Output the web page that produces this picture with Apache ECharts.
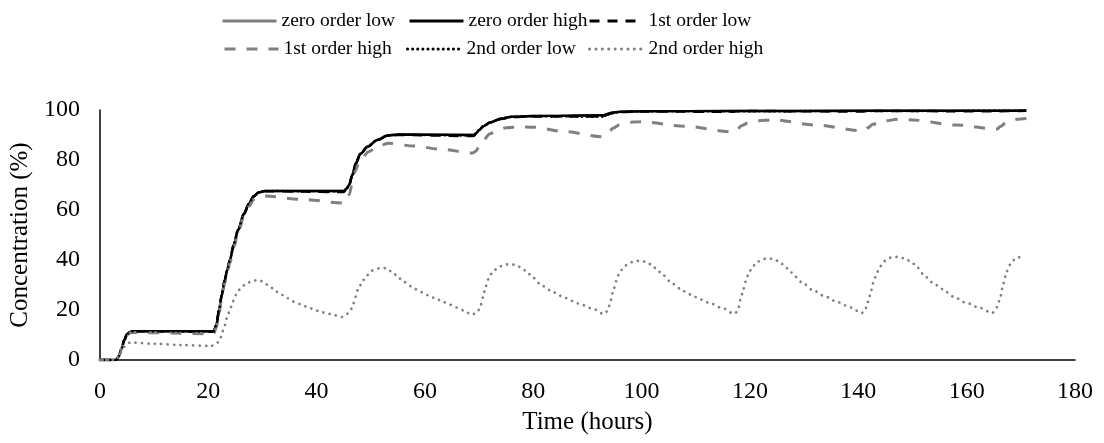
<!DOCTYPE html>
<html>
<head>
<meta charset="utf-8">
<script src="https://cdn.jsdelivr.net/npm/echarts@6/dist/echarts.min.js"></script>
<style>
html,body{margin:0;padding:0;background:#fff;}
#chart{width:1104px;height:443px;}
</style>
</head>
<body>
<div id="chart"></div>
<script>
// ---- data: [time (hours), concentration (%)] ----
const seriesNames = ['zero order low', 'zero order high', '1st order low', '1st order high', '2nd order low', '2nd order high'];

const zeroOrderLow = [[0,0],[3,0],[3.5,1.5],[4,4.5],[4.5,8],[5,10.3],[5.5,11.2],[6,11.5],[21,11.5],[21.5,14],[22,20],[22.5,26],[23,31.5],[23.5,36],[24,40],[24.7,46],[25.5,52],[26.6,58.5],[27.5,62.5],[28.4,65.5],[29.3,67],[30.5,67.6],[45,67.6],[45.5,68.5],[46,70],[46.6,74],[47.2,78.5],[48.1,82.5],[49.4,85.3],[51.2,88],[53.1,89.8],[55,90.2],[69,90],[69.5,90.8],[70,92],[70.8,93.5],[72,95],[74,96.5],[76,97.3],[80,97.6],[93,97.9],[93.5,98.3],[94.5,98.9],[96,99.3],[100,99.5],[117,99.6],[141,99.7],[171,99.8]];

const zeroOrderHigh = [[0,0],[3,0],[3.5,1.5],[4,4.5],[4.5,8],[5,10.3],[5.5,11.2],[6,11.5],[21,11.5],[21.5,14],[22,20],[22.5,26],[23,31.5],[23.5,36],[24,40],[24.7,46],[25.5,52],[26.6,58.5],[27.5,62.5],[28.4,65.5],[29.3,67],[30.5,67.6],[45,67.6],[45.5,68.5],[46,70],[46.6,74],[47.2,78.5],[48.1,82.5],[49.4,85.3],[51.2,88],[53.1,89.8],[55,90.2],[69,90],[69.5,90.8],[70,92],[70.8,93.5],[72,95],[74,96.5],[76,97.3],[80,97.6],[93,97.9],[93.5,98.3],[94.5,98.9],[96,99.3],[100,99.5],[117,99.6],[141,99.7],[171,99.7]];

const firstOrderLow = [[0,0],[3,0],[3.5,1.5],[4,4.5],[4.5,8],[5,10.3],[5.5,11.2],[6,11.5],[21,11.3],[21.5,14],[22,20],[22.5,26],[23,31.5],[23.5,36],[24,40],[24.7,46],[25.5,52],[26.6,58.5],[27.5,62.5],[28.4,65.5],[29.3,67],[30.5,67.5],[45,67.2],[45.5,68.3],[46,70],[46.6,74],[47.2,78.5],[48.1,82.5],[49.4,85.3],[51.2,88],[53.1,89.7],[55,90],[69,89.6],[69.5,90.6],[70,92],[70.8,93.5],[72,95],[74,96.4],[76,97.2],[80,97.4],[93,97.4],[93.5,98],[94.5,98.7],[96,99.2],[100,99.4],[117,99.3],[118,99.6],[141,99.4],[142,99.6],[165,99.5],[171,99.7]];

const firstOrderHigh = [[0,0],[3,0],[3.5,1.5],[4,4.5],[4.5,8],[5,10],[5.5,10.8],[6,11],[21,10.5],[21.5,13],[22,19],[22.5,25],[23,30.5],[23.5,35],[24,39],[24.7,45],[25.5,51],[26.6,57.5],[27.5,61.5],[28.4,64.3],[29.3,65.5],[30.5,65.6],[37,64.3],[45,62.8],[45.5,63.5],[46,66],[46.9,74.7],[48.1,80],[49.6,83.3],[51.2,85.3],[53.2,86.7],[58,85.6],[62.9,84.3],[68.8,82.8],[69.4,83.5],[70,85.5],[70.8,88],[72,90.5],[73.3,92],[75,92.9],[77.5,93.3],[80,93.1],[86,91.3],[92.6,89.3],[93.3,90],[94,91.5],[94.8,92.8],[96,94.2],[98.5,95.2],[100,95.3],[108,93.5],[117,91.2],[117.6,92.2],[118.5,93.8],[119.5,94.7],[121.5,95.7],[124.3,96.1],[132,94],[141,91.6],[141.7,92.8],[142.7,94.3],[144.6,95.6],[147.5,96.3],[150,96],[158,94],[165.6,92.4],[166.3,93.5],[167.3,95],[169.3,96.3],[171.3,96.7]];

const secondOrderLow = [[0,0],[3,0],[3.5,1.5],[4,4.5],[4.5,8],[5,10.3],[5.5,11.2],[6,11.5],[21,11.4],[21.5,14],[22,20],[22.5,26],[23,31.5],[23.5,36],[24,40],[24.7,46],[25.5,52],[26.6,58.5],[27.5,62.5],[28.4,65.5],[29.3,67],[30.5,67.6],[45,67.4],[45.5,68.4],[46,70],[46.6,74],[47.2,78.5],[48.1,82.5],[49.4,85.3],[51.2,88],[53.1,89.8],[55,90.1],[69,89.8],[69.5,90.7],[70,92],[70.8,93.5],[72,95],[74,96.5],[76,97.2],[80,97.5],[93,97.3],[93.5,98],[94.5,98.8],[96,99.2],[100,99.5],[117,99.5],[141,99.6],[171,99.7]];

const secondOrderHigh = [[0,0],[3,0],[3.5,1.5],[4,3.5],[4.5,5.3],[5,6.4],[5.5,6.9],[6,7],[10,6.5],[15,6],[20.5,5.6],[21.5,6.5],[22.2,8.3],[22.6,11.3],[23.1,14],[23.5,17.3],[24,20],[24.5,23.3],[25.1,26],[26,28.7],[26.9,30.4],[28.2,31.7],[29.4,32],[30.4,30.7],[31.5,29.1],[32.6,27.3],[33.7,26],[34.7,24.7],[35.9,23.3],[37.1,22.3],[38.2,21.3],[39.5,20.3],[40.6,19.3],[41.9,18.7],[43.1,18],[44.6,17.2],[45.4,18],[46.3,20],[46.8,22.7],[47.2,25.3],[47.6,28],[48.6,32],[49.4,34],[50.5,36],[51.8,36.8],[52.9,36.7],[54.2,34.7],[55.2,32.7],[56.2,31.2],[57.4,29.5],[58.5,28.2],[59.6,27],[60.7,25.8],[62,24.6],[63.3,23.3],[64.5,22.2],[65.8,21],[67.2,19.8],[68.6,18.1],
[69.3,18.6],[69.8,19.6],[70.3,22],[70.7,25],[71.2,29.3],[71.7,32.3],[72.4,34.8],[73.3,36.6],[74.4,37.9],[75.6,38.4],[76.8,38],[77.9,36.8],[78.9,35],[79.9,33],[81.7,29.6],[83.8,27],[85.9,24.8],[88.3,22.6],[90.9,20.6],[93,18.4],
[93.4,19],[93.9,21],[94.3,24],[94.8,28],[95.3,31.5],[95.8,34.2],[96.5,36.5],[97.4,38.3],[98.4,39.3],[99.6,39.7],[100.8,39.3],[101.9,38],[102.9,36],[103.9,34],[105.7,30.5],[107.8,27.5],[109.9,25.2],[112.3,23],[114.9,20.8],[117,18.5],
[117.4,19],[117.9,21],[118.3,24.5],[118.8,28.5],[119.3,32],[119.8,35],[120.5,37.5],[121.4,39.3],[122.3,40.3],[123.3,40.7],[124.5,40.3],[125.6,39],[126.6,37],[127.6,35],[129.5,31.2],[131.6,28],[133.7,25.6],[136.1,23.2],[138.6,21],[140.6,18.8],
[141.2,19.5],[141.6,22],[142,25],[142.4,28],[142.8,31.2],[143.3,34],[143.8,36.3],[144.4,38.4],[145.1,40],[146.2,41.1],[147.4,41.3],[148.7,40.5],[149.9,39],[150.9,37],[152.3,33.5],[153.7,31],[155.5,28.4],[157.5,25.4],[160,22.8],[162.5,20.8],[164.7,18.8],
[165.3,19.8],[165.7,21.5],[166.2,25.2],[166.8,30.8],[167.4,35.5],[168.2,38.8],[169.1,40.8],[170.3,41.6]];

const xTicks = {min: 0, max: 180, step: 20};
const yTicks = {min: 0, max: 100, step: 20};
const xTitle = 'Time (hours)';
const yTitle = 'Concentration (%)';

// ---- chart ----
const FONT = '"Liberation Serif", "Times New Roman", serif';
const GRAY = '#808080';
const styles = [
  {color: GRAY, width: 2.5, type: 'solid'},
  {color: '#000', width: 2.5, type: 'solid'},
  {color: '#000', width: 2.5, type: [10, 8]},
  {color: GRAY, width: 3, type: [11, 11]},
  {color: '#000', width: 2.5, type: [0.1, 5], cap: 'round'},
  {color: GRAY, width: 2.7, type: [0.1, 6.3], cap: 'round'}
];
const dataSets = [zeroOrderLow, zeroOrderHigh, firstOrderLow, firstOrderHigh, secondOrderLow, secondOrderHigh];

const legendPos = [
  {left: 221, top: 11}, {left: 408, top: 11}, {left: 588, top: 11},
  {left: 223, top: 39}, {left: 406, top: 39}, {left: 588, top: 39}
];

const legends = seriesNames.map((n, i) => ({
  show: true,
  orient: 'horizontal',
  data: [{name: n}],
  left: legendPos[i].left,
  top: legendPos[i].top,
  itemWidth: 54,
  itemHeight: 14,
  padding: 0,
  itemStyle: {color: 'rgba(0,0,0,0)', borderWidth: 0, opacity: 0},
  lineStyle: {width: 3},
  textStyle: {fontFamily: FONT, fontSize: 19.5, color: '#000'},
  selectedMode: false
}));

const chart = echarts.init(document.getElementById('chart'), null, {renderer: 'canvas'});
chart.setOption({
  animation: false,
  backgroundColor: '#fff',
  textStyle: {fontFamily: FONT, color: '#000'},
  legend: legends,
  grid: {left: 99, right: 29, top: 110, bottom: 83, containLabel: false},
  xAxis: {
    type: 'value',
    min: xTicks.min, max: xTicks.max, interval: xTicks.step,
    name: xTitle, nameLocation: 'middle', nameGap: 50,
    nameTextStyle: {fontFamily: FONT, fontSize: 25, color: '#000'},
    axisLine: {lineStyle: {color: '#000', width: 1.5}},
    axisTick: {show: false},
    splitLine: {show: false},
    axisLabel: {fontFamily: FONT, fontSize: 24, color: '#000', margin: 20}
  },
  yAxis: {
    type: 'value',
    min: yTicks.min, max: yTicks.max, interval: yTicks.step,
    name: yTitle, nameLocation: 'middle', nameGap: 62,
    nameTextStyle: {fontFamily: FONT, fontSize: 25, color: '#000'},
    axisLine: {show: true, lineStyle: {color: '#000', width: 1.5}},
    axisTick: {show: false},
    splitLine: {show: false},
    axisLabel: {fontFamily: FONT, fontSize: 24, color: '#000', margin: 20}
  },
  series: seriesNames.map((n, i) => ({
    name: n,
    type: 'line',
    data: dataSets[i],
    showSymbol: false,
    symbol: 'none',
    smooth: 0.3,
    smoothMonotone: 'x',
    lineStyle: styles[i],
    itemStyle: {color: styles[i].color},
    z: 2 + i
  }))
});
</script>
</body>
</html>
